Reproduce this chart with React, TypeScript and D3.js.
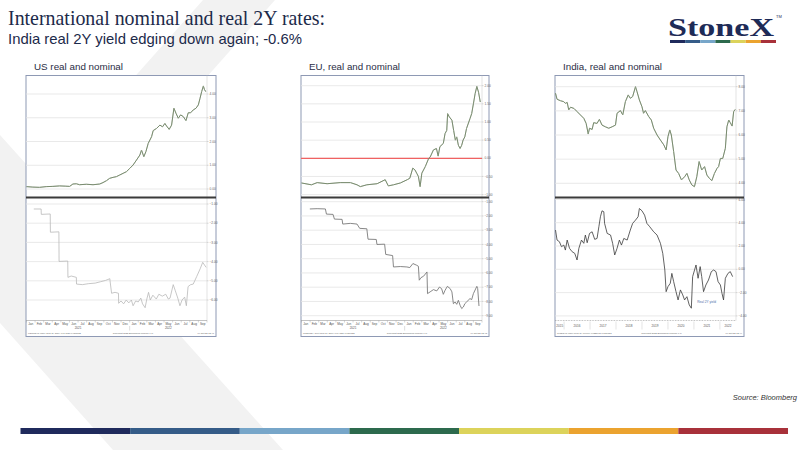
import React from 'react';
import * as d3 from 'd3';

type Pt = [number, number];

// months since 1 Jan 2021 -> yield (%)
const usNominal: Pt[] = [
  [0, 0.1], [0.74, 0.08], [1.52, 0.07], [2.29, 0.1], [3.07, 0.11], [3.85, 0.13], [4.5, 0.12], [5.02, 0.11],
  [5.4, 0.21], [5.8, 0.22], [6.18, 0.18], [6.96, 0.2], [7.74, 0.18], [8.52, 0.21], [8.9, 0.27], [9.3, 0.35],
  [9.68, 0.45], [10.07, 0.49], [10.46, 0.52], [10.85, 0.59], [11.24, 0.66], [11.63, 0.73], [12.02, 0.87],
  [12.4, 1.01], [12.8, 1.22], [13.19, 1.43], [13.38, 1.64], [13.65, 1.36], [13.89, 1.57], [14.16, 1.92],
  [14.55, 2.2], [14.74, 2.46], [15.13, 2.55], [15.52, 2.69], [15.83, 2.62], [16.1, 2.76], [16.3, 2.65],
  [16.6, 2.51], [16.88, 2.69], [17.15, 3.4], [17.39, 3.19], [17.66, 2.98], [17.93, 3.12], [18.24, 3.05],
  [18.55, 2.88], [18.82, 3.21], [19.1, 3.21], [19.4, 3.33], [19.72, 3.4], [19.99, 3.54], [20.19, 3.82],
  [20.38, 4.1], [20.58, 4.34], [20.69, 4.2], [20.85, 4.1],
];

const usReal: Pt[] = [
  [0.85, -1.26], [1.7, -1.26], [1.72, -1.54], [2.76, -1.52], [2.78, -2.47], [3.77, -2.45], [3.79, -3.99],
  [4.8, -3.97], [4.82, -4.82], [5.2, -4.75], [5.8, -4.82], [5.82, -5.17], [6.5, -5.2], [7.2, -5.15],
  [8.0, -5.12], [8.6, -5.05], [9.2, -4.98], [9.7, -4.89], [9.72, -5.0], [9.9, -5.65], [10.3, -5.6],
  [10.7, -5.65], [10.72, -6.17], [11.0, -6.05], [11.3, -6.2], [11.6, -6.0], [11.9, -6.15], [12.2, -6.0],
  [12.4, -6.3], [12.7, -6.05], [13.0, -6.1], [13.3, -5.9], [13.5, -6.2], [13.8, -6.4], [14.0, -5.95],
  [14.2, -5.6], [14.4, -6.0], [14.7, -5.75], [15.1, -5.95], [15.4, -5.7], [15.8, -5.8], [16.2, -5.7],
  [16.5, -5.95], [16.7, -5.9], [17.07, -5.2], [17.3, -5.5], [17.6, -5.9], [17.85, -6.3], [18.1, -6.0],
  [18.4, -5.85], [18.6, -6.3], [18.8, -5.3], [19.1, -5.2], [19.4, -5.17], [19.8, -4.78], [20.2, -4.38],
  [20.5, -4.04], [20.9, -4.3],
];

const euNominal: Pt[] = [
  [0, -0.68], [1.16, -0.73], [1.82, -0.67], [2.98, -0.7], [4.5, -0.67], [5.7, -0.67], [6.46, -0.73],
  [6.84, -0.78], [7.6, -0.73], [8.8, -0.7], [9.74, -0.59], [10.1, -0.76], [10.7, -0.73], [11.5, -0.68],
  [12.3, -0.59], [12.6, -0.55], [12.95, -0.27], [13.2, -0.32], [13.4, -0.41], [13.6, -0.5], [13.8, -0.78],
  [14.0, -0.41], [14.4, -0.23], [14.8, 0.0], [14.96, 0.03], [15.35, 0.23], [15.7, 0.27], [15.9, 0.06],
  [16.1, 0.32], [16.5, 0.41], [16.7, 0.68], [16.9, 0.77], [17.0, 1.23], [17.2, 1.14], [17.5, 1.05],
  [17.7, 0.77], [17.9, 0.5], [18.06, 0.59], [18.25, 0.36], [18.45, 0.27], [18.64, 0.36], [18.8, 0.5],
  [19.0, 0.59], [19.2, 0.82], [19.6, 1.09], [19.8, 1.23], [20.0, 1.5], [20.2, 1.78], [20.4, 1.98],
  [20.6, 1.82], [20.8, 1.55],
];

const euReal: Pt[] = [
  [0.97, -1.51], [1.82, -1.49], [2.78, -1.51], [2.9, -1.87], [3.67, -1.89], [3.83, -2.22], [4.72, -2.24],
  [4.8, -2.57], [5.68, -2.52], [6.46, -2.57], [6.77, -2.87], [7.6, -2.9], [7.74, -3.63], [8.7, -3.65],
  [8.78, -4.0], [9.67, -3.98], [9.8, -4.7], [10.6, -4.78], [10.7, -5.58], [11.5, -5.55], [12.26, -5.58],
  [12.6, -5.62], [12.96, -5.34], [13.4, -5.46], [13.6, -5.53], [13.7, -6.51], [13.9, -6.33], [14.2, -6.23],
  [14.6, -5.93], [14.66, -7.45], [14.96, -7.33], [15.35, -7.17], [15.74, -7.26], [16.05, -6.99],
  [16.3, -7.1], [16.5, -7.5], [16.7, -7.22], [16.97, -6.94], [17.3, -7.1], [17.5, -7.33], [17.67, -8.16],
  [17.87, -8.04], [18.06, -8.2], [18.25, -7.92], [18.45, -8.27], [18.64, -8.5], [18.83, -8.39],
  [19.0, -8.16], [19.2, -8.04], [19.6, -7.8], [19.8, -7.87], [20.0, -7.45], [20.4, -6.94], [20.5, -7.1],
  [20.65, -8.32],
];

// decimal year -> yield (%)
const indiaNominal: Pt[] = [
  [2015.67, 7.73], [2015.73, 7.48], [2015.86, 7.42], [2015.99, 7.38], [2016.05, 7.31], [2016.12, 7.35],
  [2016.18, 7.04], [2016.25, 7.15], [2016.38, 7.1], [2016.5, 6.97], [2016.63, 6.83], [2016.76, 6.69],
  [2016.85, 6.48], [2016.93, 6.04], [2016.98, 6.28], [2017.08, 6.23], [2017.14, 6.51], [2017.27, 6.48],
  [2017.36, 6.65], [2017.46, 6.41], [2017.59, 6.34], [2017.72, 6.28], [2017.85, 6.34], [2017.98, 6.41],
  [2018.04, 6.9], [2018.17, 7.01], [2018.26, 6.83], [2018.36, 7.38], [2018.47, 7.66], [2018.55, 7.52],
  [2018.64, 7.59], [2018.75, 8.0], [2018.81, 7.79], [2018.9, 7.45], [2019.0, 7.17], [2019.06, 6.9],
  [2019.13, 7.01], [2019.26, 6.76], [2019.36, 6.62], [2019.45, 6.28], [2019.58, 6.0], [2019.71, 5.79],
  [2019.84, 5.59], [2019.93, 5.38], [2020.0, 5.93], [2020.07, 6.21], [2020.13, 6.0], [2020.22, 5.31],
  [2020.31, 4.55], [2020.41, 4.41], [2020.52, 4.14], [2020.64, 4.27], [2020.73, 4.41], [2020.82, 4.14],
  [2020.92, 3.93], [2021.02, 3.86], [2021.11, 4.27], [2021.2, 4.9], [2021.3, 4.55], [2021.41, 4.69],
  [2021.5, 4.34], [2021.59, 4.21], [2021.69, 4.11], [2021.79, 4.41], [2021.89, 4.62], [2021.95, 4.69],
  [2022.02, 5.03], [2022.11, 5.03], [2022.21, 5.45], [2022.27, 6.34], [2022.34, 6.62], [2022.4, 6.51],
  [2022.47, 6.37], [2022.53, 6.97], [2022.59, 7.06],
];

const indiaReal: Pt[] = [
  [2015.67, 3.37], [2015.73, 2.51], [2015.82, 2.37], [2015.9, 1.94], [2015.99, 2.08], [2016.05, 1.65],
  [2016.12, 2.51], [2016.21, 1.8], [2016.31, 1.51], [2016.41, 1.37], [2016.5, 0.8], [2016.57, 1.8],
  [2016.67, 2.51], [2016.76, 2.23], [2016.82, 2.94], [2016.89, 2.28], [2016.98, 3.08], [2017.08, 3.22],
  [2017.18, 2.57], [2017.27, 2.65], [2017.34, 3.65], [2017.4, 4.51], [2017.46, 5.02], [2017.53, 4.94],
  [2017.56, 3.94], [2017.66, 3.08], [2017.79, 2.94], [2017.87, 2.23], [2017.95, 1.23], [2018.04, 1.8],
  [2018.13, 2.51], [2018.21, 2.08], [2018.3, 2.65], [2018.43, 2.51], [2018.55, 3.37], [2018.64, 3.94],
  [2018.75, 4.22], [2018.85, 4.51], [2018.9, 5.22], [2019.0, 5.02], [2019.1, 4.65], [2019.19, 3.94],
  [2019.3, 3.65], [2019.45, 3.22], [2019.58, 2.94], [2019.71, 2.23], [2019.8, 1.37], [2019.88, -0.06],
  [2019.93, -1.92], [2020.0, -1.49], [2020.09, -1.2], [2020.15, -0.35], [2020.22, -1.06], [2020.31, -1.92],
  [2020.39, -2.63], [2020.48, -1.77], [2020.57, -2.2], [2020.64, -2.63], [2020.73, -2.35], [2020.82, -3.06],
  [2020.9, -3.34], [2020.95, -0.63], [2021.08, 0.37], [2021.16, -0.77], [2021.24, 0.23], [2021.3, -0.63],
  [2021.37, -1.92], [2021.46, -1.35], [2021.56, -0.92], [2021.67, -0.2], [2021.76, -0.06], [2021.85, -0.2],
  [2021.93, -1.06], [2022.02, -1.35], [2022.08, -2.06], [2022.14, -2.63], [2022.21, -0.77], [2022.31, -0.35],
  [2022.4, -0.2], [2022.49, -0.63],
];

const monthTicks = [
  'Jan', 'Feb', 'Mar', 'Apr', 'May', 'Jun', 'Jul', 'Aug', 'Sep', 'Oct', 'Nov', 'Dec',
  'Jan', 'Feb', 'Mar', 'Apr', 'May', 'Jun', 'Jul', 'Aug', 'Sep',
];
const monthYears = ['2021', '2022'];
const indiaYears = ['2015', '2016', '2017', '2018', '2019', '2020', '2021', '2022'];

const usTopTicks = [0, 1, 2, 3, 4];
const usBottomTicks = [-1, -2, -3, -4, -5, -6];
const euTopTicks = [-1, -0.5, 0, 0.5, 1, 1.5, 2];
const euBottomTicks = [-1, -2, -3, -4, -5, -6, -7, -8, -9];
const indiaTopTicks = [4, 5, 6, 7, 8];
const indiaBottomTicks = [-4, -2, 0, 2, 4, 6];

const stripColors = ['#1f2a5c', '#355c88', '#77a6c9', '#2d6a4d', '#dcd35b', '#eba32f', '#a8313a'];

const fmt = d3.format('.2f');

interface PanelProps {
  id: string;
  title: string;
  titleW: number;
  x0: number;
  x1: number;
  plotRight: number;
  xDomain: [number, number];
  topMap: [number, number, number, number];
  botMap: [number, number, number, number];
  topTicks: number[];
  botTicks: number[];
  nominal: Pt[];
  real: Pt[];
  realColor: string;
  realWidth: number;
  zeroLine?: boolean;
  monthly: boolean;
  annotation?: string;
  footer: [string, string, string];
}

const TOP = 75.5;
const DIV = 197.5;
const AXIS = 320.5;
const BOTTOM = 336.5;

function Panel(p: PanelProps) {
  const x = d3.scaleLinear().domain(p.xDomain).range([p.x0 + 0.5, p.plotRight]);
  const yTop = d3.scaleLinear().domain([p.topMap[0], p.topMap[1]]).range([p.topMap[2], p.topMap[3]]);
  const yBot = d3.scaleLinear().domain([p.botMap[0], p.botMap[1]]).range([p.botMap[2], p.botMap[3]]);
  const topLine = d3.line<Pt>().x(d => x(d[0])).y(d => yTop(d[1]));
  const botLine = d3.line<Pt>().x(d => x(d[0])).y(d => yBot(d[1]));
  const labelX = p.plotRight + 2.5;

  let xAxis: React.ReactNode;
  if (p.monthly) {
    const months = d3.range(p.xDomain[0], p.xDomain[1] + 1);
    xAxis = (
      <g>
        <line x1={p.x0} x2={p.plotRight} y1={AXIS} y2={AXIS} stroke="#9a9a9a" strokeWidth={0.6} />
        {months.map(m => (
          <line key={m} x1={x(m)} x2={x(m)} y1={AXIS} y2={AXIS + 2} stroke="#9a9a9a" strokeWidth={0.4} />
        ))}
        {monthTicks.map((lab, i) => (
          <text key={i} x={x(i + 0.5)} y={AXIS + 4.6} fontSize={3.1} fill="#555" textAnchor="middle">{lab}</text>
        ))}
        <line x1={x(12)} x2={x(12)} y1={AXIS + 5.5} y2={AXIS + 10} stroke="#aaa" strokeWidth={0.4} />
        <text x={x(6)} y={AXIS + 8.6} fontSize={3.1} fill="#555" textAnchor="middle">{monthYears[0]}</text>
        <text x={x(16.5)} y={AXIS + 8.6} fontSize={3.1} fill="#555" textAnchor="middle">{monthYears[1]}</text>
      </g>
    );
  } else {
    xAxis = (
      <g>
        <line x1={p.x0} x2={p.plotRight} y1={AXIS} y2={AXIS} stroke="#888" strokeWidth={0.6} strokeDasharray="0.8,0.8" />
        {indiaYears.map((lab, i) => {
          const yr = +lab;
          const a = Math.max(yr, p.xDomain[0]);
          const b = Math.min(yr + 1, p.xDomain[1]);
          return (
            <g key={lab}>
              {i > 0 && <line x1={x(yr)} x2={x(yr)} y1={AXIS + 1} y2={AXIS + 9} stroke="#bbb" strokeWidth={0.4} />}
              <text x={x((a + b) / 2)} y={AXIS + 6.8} fontSize={3.1} fill="#555" textAnchor="middle">{lab}</text>
            </g>
          );
        })}
      </g>
    );
  }

  return (
    <g>
      <text x={p.x0 + 8} y={69.5} fontSize={9.4} fill="#2a2d45" fontFamily="'Liberation Sans', Arial, sans-serif"
        textLength={p.titleW} lengthAdjust="spacingAndGlyphs">{p.title}</text>
      <rect x={p.x0} y={TOP} width={p.x1 - p.x0} height={BOTTOM - TOP} fill="#fff" stroke="#8e99b4" strokeWidth={1} />
      <defs>
        <clipPath id={`${p.id}-top`}><rect x={p.x0} y={TOP} width={p.plotRight - p.x0 + 1} height={DIV - TOP - 1} /></clipPath>
        <clipPath id={`${p.id}-bot`}><rect x={p.x0} y={DIV + 1} width={p.plotRight - p.x0 + 1} height={AXIS - DIV - 1} /></clipPath>
      </defs>

      {p.topTicks.map(t => (
        <g key={`t${t}`}>
          <line x1={p.x0} x2={p.plotRight} y1={yTop(t)} y2={yTop(t)} stroke="#e3e3e3" strokeWidth={0.8} />
          <line x1={p.plotRight} x2={p.plotRight + 1.5} y1={yTop(t)} y2={yTop(t)} stroke="#999" strokeWidth={0.4} />
          <text x={labelX} y={yTop(t) + 1.1} fontSize={3.2} fill="#666">{fmt(t)}</text>
        </g>
      ))}
      {p.botTicks.map(t => (
        <g key={`b${t}`}>
          <line x1={p.x0} x2={p.plotRight} y1={yBot(t)} y2={yBot(t)} stroke="#e3e3e3" strokeWidth={0.8} />
          <line x1={p.plotRight} x2={p.plotRight + 1.5} y1={yBot(t)} y2={yBot(t)} stroke="#999" strokeWidth={0.4} />
          <text x={labelX} y={yBot(t) + 1.1} fontSize={3.2} fill="#666">{fmt(t)}</text>
        </g>
      ))}
      <line x1={p.plotRight} x2={p.plotRight} y1={TOP} y2={AXIS} stroke="#c4c4c4" strokeWidth={0.5} />

      {p.zeroLine && (
        <line x1={p.x0} x2={p.plotRight} y1={yTop(0)} y2={yTop(0)} stroke="#f06262" strokeWidth={1.3} />
      )}

      <g clipPath={`url(#${p.id}-top)`}>
        <path d={topLine(p.nominal) ?? ''} fill="none" stroke="#4f6646" strokeWidth={1} strokeLinejoin="round" />
        <path d={topLine(p.nominal) ?? ''} fill="none" stroke="#dfe7d3" strokeWidth={0.3} strokeLinejoin="round" />
      </g>
      <g clipPath={`url(#${p.id}-bot)`}>
        <path d={botLine(p.real) ?? ''} fill="none" stroke={p.realColor} strokeWidth={p.realWidth} strokeLinejoin="round" />
      </g>
      {p.annotation && (
        <text x={x(2021.13)} y={yBot(-2.9)} fontSize={3.2} fill="#4b6ea8">{p.annotation}</text>
      )}

      <line x1={p.x0} x2={p.x1} y1={DIV} y2={DIV} stroke="#3b3b3b" strokeWidth={1.8} />
      {xAxis}

      <g fontSize={2.3} fill="#666">
        <text x={p.x0 + 2} y={BOTTOM - 3}>{p.footer[0]}</text>
        <text x={(p.x0 + p.x1) / 2 + 12} y={BOTTOM - 3} textAnchor="middle">{p.footer[1]}</text>
        <text x={p.x1 - 2} y={BOTTOM - 3} textAnchor="end">{p.footer[2]}</text>
      </g>
    </g>
  );
}

export default function App() {
  const strip = d3.scaleLinear().domain([0, stripColors.length]).range([20.5, 788]);
  const logoStrip = d3.scaleLinear().domain([0, stripColors.length]).range([670, 776]);

  return (
    <svg width={800} height={450} viewBox="0 0 800 450"
      style={{ position: 'absolute', left: 0, top: 0, background: '#fff' }}
      fontFamily="'Liberation Sans', Arial, sans-serif">
      <rect width={800} height={450} fill="#fff" />
      {/* background chevron */}
      <polygon points="203,0 275,0 0,310 0,228" fill="#f2f2f2" />
      <polygon points="0,135 0,323 113,450 283,450" fill="#f2f2f2" />

      <text x={8} y={25} fontSize={21} fill="#1c2a4a" fontFamily="'Liberation Serif', 'Times New Roman', serif"
        textLength={317} lengthAdjust="spacingAndGlyphs">International nominal and real 2Y rates:</text>
      <text x={8} y={43.5} fontSize={15} fill="#1c2a4a" textLength={294} lengthAdjust="spacingAndGlyphs">
        India real 2Y yield edging down again; -0.6%
      </text>

      <text x={668} y={36} fontSize={26} fontWeight="bold" fill="#1e2b57"
        fontFamily="'Liberation Serif', 'Times New Roman', serif" textLength={106} lengthAdjust="spacingAndGlyphs">StoneX</text>
      <text x={776} y={18} fontSize={4} fill="#1e2b57">TM</text>
      {stripColors.map((c, i) => (
        <rect key={c} x={logoStrip(i)} y={40} width={logoStrip(i + 1) - logoStrip(i)} height={3} fill={c} />
      ))}

      <Panel id="us" title="US real and nominal" titleW={89} x0={26} x1={216} plotRight={207}
        xDomain={[0, 21]} topMap={[0, 4, 189, 94]} botMap={[-1, -6, 204, 300]}
        topTicks={usTopTicks} botTicks={usBottomTicks} nominal={usNominal} real={usReal}
        realColor="#b9b9b9" realWidth={0.8} monthly
        footer={['USGG2YR Index  Real 2Y  Daily 04JAN21-04OCT22', 'Copyright 2022 Bloomberg Finance L.P.', '04-Oct-22 12:41']} />
      <Panel id="eu" title="EU, real and nominal" titleW={91} x0={301} x1={489} plotRight={482}
        xDomain={[0, 21]} topMap={[0, 2, 158.3, 85.7]} botMap={[-1, -9, 201.7, 315.7]}
        topTicks={euTopTicks} botTicks={euBottomTicks} nominal={euNominal} real={euReal}
        realColor="#7a7a7a" realWidth={0.9} monthly zeroLine
        footer={['GTEUR2Y Govt  Real 2Y  Daily 04JAN21-04OCT22', 'Copyright 2022 Bloomberg Finance L.P.', '04-Oct-22 12:43']} />
      <Panel id="in" title="India, real and nominal" titleW={99} x0={555} x1={744} plotRight={736}
        xDomain={[2015.67, 2022.62]} topMap={[4, 8, 183.3, 86.7]} botMap={[0, 2, 269.3, 246]}
        topTicks={indiaTopTicks} botTicks={indiaBottomTicks} nominal={indiaNominal} real={indiaReal}
        realColor="#3a3a3a" realWidth={0.8} monthly={false} annotation="Real 2Y yield"
        footer={['GIND2YR Index  Real 2Y  Weekly 04SEP15-04OCT22', 'Copyright 2022 Bloomberg Finance L.P.', '04-Oct-22 12:44']} />

      <text x={797} y={400} fontSize={7.5} fontStyle="italic" fill="#333" textAnchor="end">Source: Bloomberg</text>

      {stripColors.map((c, i) => (
        <rect key={c} x={strip(i)} y={428} width={strip(i + 1) - strip(i)} height={6} fill={c} />
      ))}
    </svg>
  );
}
